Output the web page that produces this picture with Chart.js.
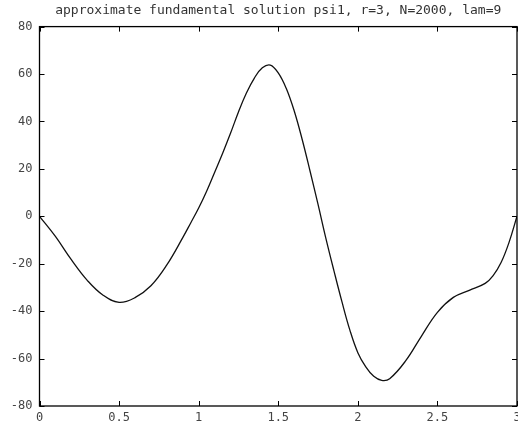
<!DOCTYPE html>
<html>
<head>
<meta charset="utf-8">
<script src="https://cdn.jsdelivr.net/npm/chart.js@4"></script>
<style>
  html, body { margin: 0; padding: 0; background: #fff; }
  #wrap { width: 518px; height: 427px; }
</style>
</head>
<body>
<div id="wrap"><canvas id="psi"></canvas></div>
<script>
// values
const xs = [0, 0.1, 0.2, 0.3, 0.4, 0.5, 0.6, 0.7, 0.8, 0.9, 0.95, 1.0, 1.05, 1.1, 1.15, 1.2, 1.25, 1.3, 1.35, 1.4, 1.45, 1.5, 1.55, 1.6, 1.65, 1.7, 1.75, 1.8, 1.85, 1.9, 1.95, 2.0, 2.05, 2.1, 2.15, 2.2, 2.3, 2.4, 2.5, 2.6, 2.7, 2.8, 2.85, 2.9, 2.95, 3.0];
const psi = [0, -8.5, -18.3, -27, -33.3, -36.3, -34.3, -29.3, -20.5, -9, -2.8, 3.5, 10.6, 18.5, 26.5, 35, 44, 52, 58.3, 62.6, 63.8, 60.5, 54, 44.5, 32.5, 19, 5, -9.5, -23, -36, -48, -57.5, -63.5, -67.5, -69.2, -68.5, -61, -50.5, -40.5, -34.2, -31.2, -28.3, -25, -19.5, -11, 0];
const yTicks = [-80, -60, -40, -20, 0, 20, 40, 60, 80];
const xTicks = [0, 0.5, 1, 1.5, 2, 2.5, 3];

const monoFont = "'DejaVu Sans Mono', 'Liberation Mono', monospace";

// box around the plot + small inward ticks on all four sides
const plugin_marco = {
  id: "marco",
  afterDraw: (chart) => {
    const ctx = chart.ctx;
    const a = chart.chartArea;
    const sx = chart.scales.x;
    const sy = chart.scales.y;
    const len = 5;
    ctx.save();
    ctx.strokeStyle = "#000";
    ctx.lineWidth = 1;
    ctx.beginPath();
    xTicks.forEach((v) => {
      const px = Math.round(sx.getPixelForValue(v)) + 0.5;
      ctx.moveTo(px, a.bottom);
      ctx.lineTo(px, a.bottom - len);
      ctx.moveTo(px, a.top);
      ctx.lineTo(px, a.top + len);
    });
    yTicks.forEach((v) => {
      const py = Math.round(sy.getPixelForValue(v)) + 0.5;
      ctx.moveTo(a.left, py);
      ctx.lineTo(a.left + len, py);
      ctx.moveTo(a.right, py);
      ctx.lineTo(a.right - len, py);
    });
    ctx.stroke();
    ctx.lineWidth = 1.3;
    ctx.strokeRect(a.left, a.top, a.right - a.left, a.bottom - a.top);
    ctx.restore();
  },
};

const ctx = document.getElementById("psi").getContext("2d");
const chart_psi = new Chart(ctx, {
  type: "line",
  data: {
    datasets: [
      {
        label: "psi1",
        data: xs.map((x, i) => ({ x: x, y: psi[i] })),
        borderColor: "#111",
        borderWidth: 1.3,
        pointRadius: 0,
        fill: false,
        tension: 0.4,
      },
    ],
  },
  options: {
    responsive: true,
    maintainAspectRatio: false,
    animation: false,
    layout: { padding: { left: 0, right: 1, top: 0, bottom: 0 } },
    scales: {
      x: {
        type: "linear",
        min: 0,
        max: 3,
        afterBuildTicks: (scale) => {
          scale.ticks = xTicks.map((v) => ({ value: v }));
        },
        afterFit: (scale) => {
          scale.height = 21;
          scale.paddingLeft = 0;
          scale.paddingRight = 0;
        },
        grid: { display: false, drawTicks: false },
        border: { display: false },
        ticks: {
          padding: 5,
          maxRotation: 0,
          autoSkip: false,
          color: "#444",
          font: { family: monoFont, size: 12 },
          callback: (v) => String(v),
        },
      },
      y: {
        min: -80,
        max: 80,
        afterBuildTicks: (scale) => {
          scale.ticks = yTicks.map((v) => ({ value: v }));
        },
        afterFit: (scale) => {
          scale.width = 39.5;
          scale.paddingTop = 0;
          scale.paddingBottom = 0;
        },
        grid: { display: false, drawTicks: false },
        border: { display: false },
        ticks: {
          padding: 7,
          autoSkip: false,
          color: "#444",
          font: { family: monoFont, size: 12 },
        },
      },
    },
    plugins: {
      legend: { display: false },
      tooltip: { enabled: false },
      title: {
        display: true,
        fullSize: false,
        text: "approximate fundamental solution psi1, r=3, N=2000, lam=9",
        color: "#333",
        font: { family: monoFont, size: 13, weight: "normal" },
        padding: { top: 3, bottom: 8 },
      },
    },
  },
  plugins: [plugin_marco],
});
</script>
</body>
</html>
